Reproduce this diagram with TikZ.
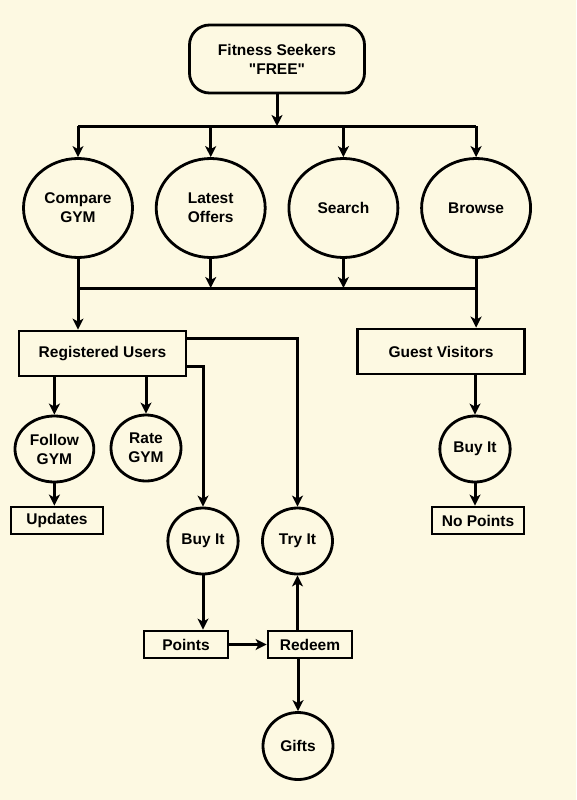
\documentclass[tikz,border=0pt]{standalone}
\usepackage{fontspec}
\setmainfont{Liberation Sans}[Ligatures=TeXOff]
\usepackage{tikz}
\usetikzlibrary{arrows.meta,shapes.geometric}
\definecolor{paper}{RGB}{253,249,226}
\tikzstyle{base}    = [draw,line width=2.8pt,align=center,font=\fontsize{15.5}{19}\selectfont\bfseries]
\tikzstyle{seeker}  = [base,rectangle,rounded corners=20pt,minimum width=175pt,minimum height=68pt]
\tikzstyle{bubble}  = [base,ellipse,minimum width=109pt,minimum height=99pt]
\tikzstyle{pebble}  = [base,ellipse,minimum width=70pt,minimum height=66pt]
\tikzstyle{block}   = [base,rectangle,minimum width=167pt,minimum height=45pt]
\tikzstyle{tag}     = [base,rectangle,minimum height=27pt,inner sep=0pt]

\begin{document}
\begin{tikzpicture}[x=1pt,y=-1pt,-{Stealth[length=11pt,width=11pt,inset=3pt]},line width=3pt,node distance=132.7pt]

\useasboundingbox[fill=paper] (0,0) rectangle (576,800);

\node[seeker](seek)   at (277,59)        {Fitness Seekers\\"FREE"};
\node[bubble](compare) at (78,208)       {Compare\\GYM};
\node[bubble](offers) [right of=compare] {Latest\\Offers};
\node[bubble](search) [right of=offers]  {Search};
\node[bubble](browse) [right of=search]  {Browse};

\coordinate (bus1) at (277,126);
\coordinate (bus2) at (277,288);

\node[block] (reg)   at (102.5,353.5) {Registered Users};
\node[block] (guest) at (441,351.5)   {Guest Visitors};

\node[pebble](follow)   at (54.4,449) {Follow\\GYM};
\node[pebble](rate)     at (146,448)  {Rate\\GYM};
\node[tag,minimum width=92pt](updates) at (57,520.5) {Updates};

\node[pebble](buyreg)   at (203,541)   {Buy It};
\node[pebble](try)      at (297.5,541) {Try It};
\node[tag,minimum width=84pt](points) at (186,644.5) {Points};
\node[tag,minimum width=84pt](redeem) at (310,644.5) {Redeem};
\node[pebble,minimum height=67pt](gifts) at (298,746) {Gifts};

\node[pebble](buyguest) at (475,449) {Buy It};
\node[tag,minimum width=92pt](nopoints) at (478,520.5) {No Points};

% top fan out
\draw (seek) -- (bus1);
\draw[-] (compare |- bus1) -- (browse |- bus1);
\path
    (compare |- bus1) edge (compare)
    (offers |- bus1)  edge (offers)
    (search |- bus1)  edge (search)
    (browse |- bus1)  edge (browse);

% gather
\draw[-] (compare) -- (compare |- bus2);
\draw[-] (browse) -- (browse |- bus2);
\draw[-] (compare |- bus2) -- (browse |- bus2);
\path
    (offers) edge (offers |- bus2)
    (search) edge (search |- bus2)
    (compare |- bus2) edge (compare |- reg.north)
    (browse |- bus2)  edge (browse |- guest.north);

% registered users
\path
    (follow |- reg.south) edge (follow)
    (rate |- reg.south)   edge (rate)
    (follow) edge (follow |- updates.north);
\draw ([yshift=-9pt]reg.north east) -| (try);
\draw ([yshift=10.5pt]reg.south east) -| (buyreg);
\path
    (buyreg) edge (buyreg |- points.north)
    (points) edge (redeem)
    (try |- redeem.north) edge (try)
    (gifts |- redeem.south) edge (gifts);

% guest visitors
\path
    (buyguest |- guest.south) edge (buyguest)
    (buyguest) edge (buyguest |- nopoints.north);
\end{tikzpicture}
\end{document}
